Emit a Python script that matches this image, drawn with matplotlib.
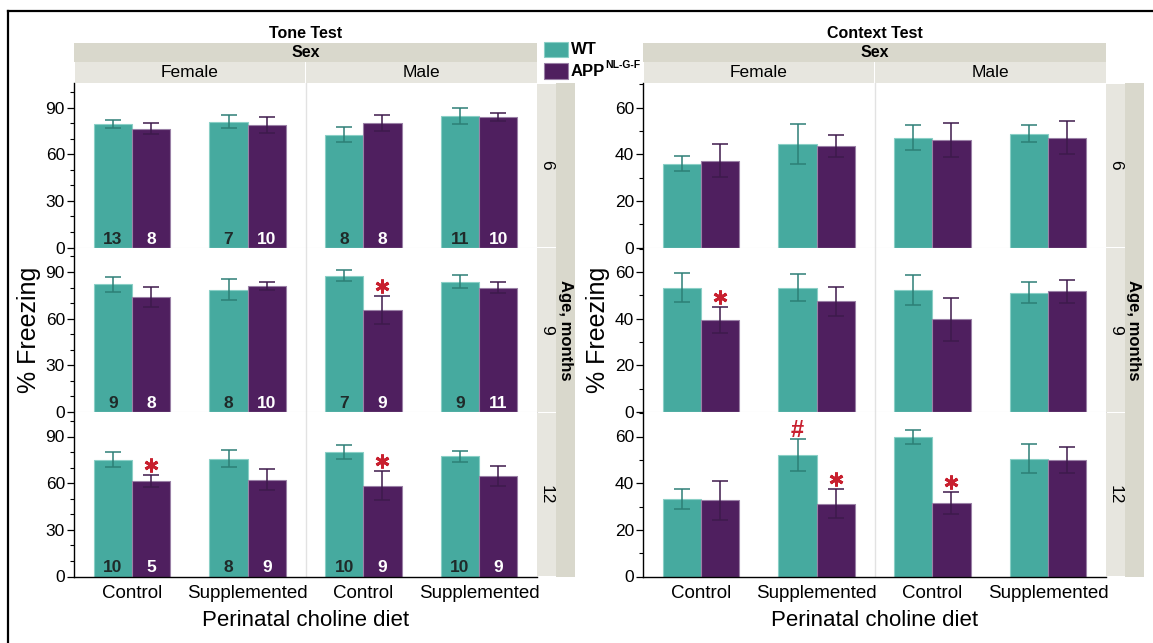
import matplotlib.pyplot as plt
import numpy as np
from matplotlib.patches import Rectangle
from matplotlib.lines import Line2D
from matplotlib.ticker import MultipleLocator
from matplotlib.transforms import offset_copy

plt.rcParams['font.family'] = ['Liberation Sans', 'DejaVu Sans']

diet = ['Control', 'Supplemented', 'Control', 'Supplemented']
sexes = ['Female', 'Male']
ages = ['6', '9', '12']

# rows: age 6, 9, 12 months
# columns: female control, female supplemented, male control, male supplemented
tone_wt = [[79.5, 81.0, 72.5, 84.5],
           [82.0, 78.7, 87.7, 83.8],
           [75.1, 75.8, 80.0, 77.2]]
tone_wt_se = [[2.7, 4.4, 4.7, 5.0],
              [5.1, 6.6, 3.3, 4.0],
              [4.8, 5.5, 4.6, 3.5]]
tone_app = [[76.5, 78.8, 80.0, 84.0],
            [74.0, 80.9, 65.5, 80.0],
            [61.4, 62.3, 58.5, 64.6]]
tone_app_se = [[3.8, 5.0, 5.1, 2.6],
               [6.3, 2.4, 9.1, 3.3],
               [3.8, 6.8, 9.3, 6.6]]
tone_wt_n = [[13, 7, 8, 11], [9, 8, 7, 9], [10, 8, 10, 10]]
tone_app_n = [[8, 10, 8, 10], [8, 10, 9, 11], [5, 9, 9, 9]]
tone_marks = [(1, 2, 'app', '*'), (2, 0, 'app', '*'), (2, 2, 'app', '*')]

context_wt = [[36.0, 44.4, 47.0, 48.8],
              [53.3, 53.3, 52.3, 51.2],
              [33.4, 52.0, 59.8, 50.4]]
context_wt_se = [[3.3, 8.4, 5.3, 3.7],
                 [6.2, 5.8, 6.3, 4.5],
                 [4.3, 6.8, 3.0, 6.2]]
context_app = [[37.2, 43.6, 46.1, 47.0],
               [39.4, 47.5, 39.8, 51.7],
               [32.7, 31.1, 31.7, 50.0]]
context_app_se = [[7.0, 4.6, 7.1, 7.1],
                  [5.5, 6.2, 9.2, 4.9],
                  [8.4, 6.2, 4.7, 5.5]]
context_marks = [(1, 0, 'app', '*'), (2, 1, 'wt', '#'), (2, 1, 'app', '*'), (2, 2, 'app', '*')]

W, H = 1153, 643
fig = plt.figure(figsize=(W / 100, H / 100), dpi=100)


def fx(x):
    return x / W


def fy(y):
    return 1 - y / H


teal = '#46AA9F'
purple = '#4F1F5F'
red = '#C8202F'
strip_dark = '#D9D8CC'
strip_light = '#E7E6DF'

row_top = [83, 247.5, 412]
row_h = 164.5
pw = 463
bw = 0.33


def text(x, y, s, **kw):
    fig.text(fx(x), fy(y), s, ha='center', va='center', **kw)


def panel(left, title, wt, wt_se, app, app_se, wt_n, app_n, marks, ymax, major, minor, ylab_x):
    right = left + pw
    mid = left + pw / 2
    x = np.arange(4)
    axes = []
    for r in range(3):
        ax = fig.add_axes([fx(left), fy(row_top[r] + row_h), pw / W, row_h / H])
        ax.axvline(1.5, color='#E2E2E2', lw=1, zorder=0)
        ax.bar(x - bw / 2, wt[r], bw, color=teal, edgecolor='#8ACFC6', linewidth=0.8, zorder=2)
        ax.bar(x + bw / 2, app[r], bw, color=purple, edgecolor='#9A80A6', linewidth=0.8, zorder=2)
        ax.errorbar(x - bw / 2, wt[r], yerr=wt_se[r], fmt='none', ecolor='#2D7F76',
                    elinewidth=1.1, capsize=6, capthick=1.1, zorder=3)
        ax.errorbar(x + bw / 2, app[r], yerr=app_se[r], fmt='none', ecolor='#3E1A4C',
                    elinewidth=1.1, capsize=6, capthick=1.1, zorder=3)
        if wt_n is not None:
            base = offset_copy(ax.transData, fig=fig, y=1, units='dots')
            for i in range(4):
                ax.text(x[i] - bw / 2, 0, str(wt_n[r][i]), transform=base, ha='center', va='bottom',
                        fontsize=12.5, fontweight='bold', color='#1F2A29', zorder=4)
                ax.text(x[i] + bw / 2, 0, str(app_n[r][i]), transform=base, ha='center', va='bottom',
                        fontsize=12.5, fontweight='bold', color='white', zorder=4)
        ax.set_xlim(-0.5, 3.5)
        ax.set_ylim(0, ymax)
        ax.yaxis.set_major_locator(MultipleLocator(major))
        ax.yaxis.set_minor_locator(MultipleLocator(minor))
        ax.tick_params(axis='y', which='major', length=5, width=0.9, labelsize=12.5, pad=1.5)
        ax.tick_params(axis='y', which='minor', length=3, width=0.8)
        for s in ['top', 'right']:
            ax.spines[s].set_visible(False)
        ax.spines['left'].set_linewidth(1.0)
        ax.set_xticks(x)
        if r == 2:
            ax.set_xticklabels(diet, fontsize=13.5)
            ax.tick_params(axis='x', length=0, pad=6)
            ax.spines['bottom'].set_linewidth(1.0)
        else:
            ax.set_xticklabels([])
            ax.tick_params(axis='x', length=0)
            ax.spines['bottom'].set_color('#DCDCDC')
        for (mr, mg, ms, sym) in marks:
            if mr != r:
                continue
            if ms == 'wt':
                xp, top = x[mg] - bw / 2, wt[r][mg] + wt_se[r][mg]
            else:
                xp, top = x[mg] + bw / 2, app[r][mg] + app_se[r][mg]
            if sym == '*':
                ax.plot(xp, top, marker=(6, 2, 0), ms=10, mew=2.1, color=red, zorder=5,
                        transform=offset_copy(ax.transData, fig=fig, y=10, units='dots'))
            else:
                ax.text(xp, top, sym, ha='center', va='baseline', fontsize=17, fontweight='bold',
                        color=red, zorder=5,
                        transform=offset_copy(ax.transData, fig=fig, y=2, units='dots'))
        axes.append(ax)

    # facet strips on top
    fig.add_artist(Rectangle((fx(left), fy(62)), pw / W, 19 / H, transform=fig.transFigure,
                             facecolor=strip_dark, lw=0))
    for k in range(2):
        fig.add_artist(Rectangle((fx(left + k * pw / 2 + 0.5), fy(83)), (pw / 2 - 1) / W, 20.5 / H,
                                 transform=fig.transFigure, facecolor=strip_light, lw=0))
        text(left + pw / 4 + k * pw / 2, 72.5, sexes[k], fontsize=12.5)
    text(mid, 33, title, fontsize=11.5, fontweight='bold')
    text(mid, 52.5, 'Sex', fontsize=11.5, fontweight='bold')

    # age strips on the right
    for r in range(3):
        fig.add_artist(Rectangle((fx(right), fy(row_top[r] + row_h - 0.5)), 19 / W, (row_h - 1) / H,
                                 transform=fig.transFigure, facecolor=strip_light, lw=0))
        text(right + 9.5, row_top[r] + row_h / 2, ages[r], fontsize=12.5, rotation=270)
    fig.add_artist(Rectangle((fx(right + 19), fy(577)), 19 / W, 494 / H, transform=fig.transFigure,
                             facecolor=strip_dark, lw=0))
    text(right + 28, 330, 'Age, months', fontsize=12, fontweight='bold', rotation=270)

    text(ylab_x, 330, '% Freezing', fontsize=18, rotation=90)
    text(mid, 621, 'Perinatal choline diet', fontsize=16)
    return axes


tone_axes = panel(74, 'Tone Test', tone_wt, tone_wt_se, tone_app, tone_app_se,
                  tone_wt_n, tone_app_n, tone_marks, 105.75, 30, 10, 29)
context_axes = panel(643, 'Context Test', context_wt, context_wt_se, context_app, context_app_se,
                     None, None, context_marks, 70.5, 20, 10, 598)

# legend
fig.add_artist(Rectangle((fx(544), fy(57)), 24 / W, 15 / H, transform=fig.transFigure,
                         facecolor=teal, edgecolor='#8ACFC6', lw=0.8))
fig.add_artist(Rectangle((fx(544), fy(79)), 24 / W, 16 / H, transform=fig.transFigure,
                         facecolor=purple, edgecolor='#9A80A6', lw=0.8))
fig.text(fx(571), fy(49.5), 'WT', ha='left', va='center', fontsize=12, fontweight='bold')
app_txt = fig.text(fx(571), fy(71), 'APP', ha='left', va='center', fontsize=12, fontweight='bold')
tone_axes[0].annotate('NL-G-F', xy=(1, 0.55), xycoords=app_txt, ha='left', va='bottom',
                      fontsize=7.5, fontweight='bold')

# frame lines
fig.add_artist(Line2D([fx(8), 1], [fy(11), fy(11)], transform=fig.transFigure, color='black', lw=1.6))
fig.add_artist(Line2D([fx(8), fx(8)], [fy(11), 0], transform=fig.transFigure, color='black', lw=1.6))

fig.savefig('out.png', dpi=100, facecolor='white')
